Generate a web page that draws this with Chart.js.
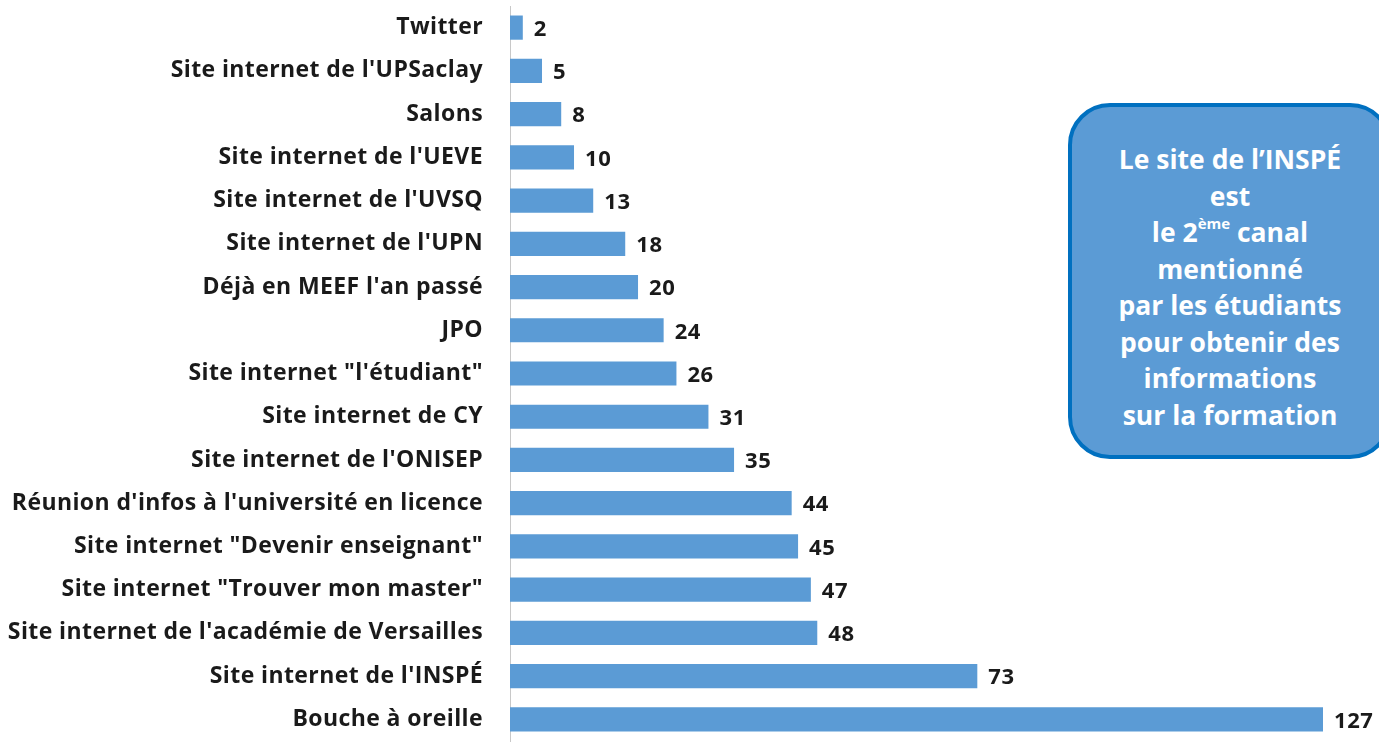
<!DOCTYPE html>
<html>
<head>
<meta charset="utf-8">
<script src="https://cdn.jsdelivr.net/npm/chart.js@4"></script>
<style>
  html, body { margin: 0; padding: 0; background: #fff; overflow: hidden; }
  #wrap { position: relative; width: 1379px; height: 742px; }
  canvas { display: block; }
  #box {
    position: absolute; left: 1068px; top: 103px; width: 324px; height: 356px;
    background: #5b9bd5; border: 4px solid #0070c0; border-radius: 42px;
    color: #fff; font-family: "Open Sans", sans-serif; font-weight: bold;
    font-size: 26.5px; line-height: 36.5px; text-align: center;
    box-sizing: border-box; padding-top: 34px;
  }
  #box sup { font-size: 15px; line-height: 0; vertical-align: 13px; }
</style>
</head>
<body>
<div id="wrap">
  <canvas id="chart" width="1379" height="742"></canvas>
  <div id="box">Le site de l’INSPÉ<br>est<br>le 2<sup>ème</sup> canal<br>mentionné<br>par les étudiants<br>pour obtenir des<br>informations<br>sur la formation</div>
</div>
<script>
// Channels by which students heard about the training
const categories = [
  "Twitter",
  "Site internet de l'UPSaclay",
  "Salons",
  "Site internet de l'UEVE",
  "Site internet de l'UVSQ",
  "Site internet de l'UPN",
  "Déjà en MEEF l'an passé",
  "JPO",
  "Site internet \"l'étudiant\"",
  "Site internet de CY",
  "Site internet de l'ONISEP",
  "Réunion d'infos à l'université en licence",
  "Site internet \"Devenir enseignant\"",
  "Site internet \"Trouver mon master\"",
  "Site internet de l'académie de Versailles",
  "Site internet de l'INSPÉ",
  "Bouche à oreille"
];
const counts = [2, 5, 8, 10, 13, 18, 20, 24, 26, 31, 35, 44, 45, 47, 48, 73, 127];

const barColor = '#5b9bd5';

// slightly wider text, closer to the original Calibri rendering
const spacing = {
  id: 'spacing',
  beforeDraw(chart) { chart.ctx.letterSpacing = '0.4px'; }
};

// Draw the value right after each bar
const valueLabels = {
  id: 'valueLabels',
  afterDatasetsDraw(chart) {
    const ctx = chart.ctx;
    const meta = chart.getDatasetMeta(0);
    ctx.save();
    ctx.font = 'bold 22px "Open Sans", sans-serif';
    ctx.letterSpacing = '0.6px';
    ctx.fillStyle = '#1a1a1a';
    ctx.textBaseline = 'middle';
    meta.data.forEach((bar, i) => {
      ctx.fillText(counts[i], bar.x + 11, bar.y + 2);
    });
    ctx.restore();
  }
};

const ctx = document.getElementById('chart').getContext('2d');
new Chart(ctx, {
  type: 'bar',
  data: {
    labels: categories,
    datasets: [{
      data: counts,
      backgroundColor: barColor,
      borderWidth: 0,
      barPercentage: 0.56,
      categoryPercentage: 1
    }]
  },
  options: {
    indexAxis: 'y',
    responsive: false,
    animation: false,
    layout: { padding: { top: 6, bottom: 1, right: 56, left: 0 } },
    plugins: { legend: { display: false }, tooltip: { enabled: false } },
    scales: {
      x: { display: false, min: 0, max: 127 },
      y: {
        grid: { display: false, drawTicks: false },
        border: { display: true, color: '#c8c8c8', width: 1 },
        afterFit(scale) {
          scale.width = 510;
          scale.paddingTop = 0;
          scale.paddingBottom = 0;
        },
        ticks: {
          padding: 27,
          color: '#1a1a1a',
          font: { family: '"Open Sans", sans-serif', weight: 'bold', size: 23 }
        }
      }
    }
  },
  plugins: [spacing, valueLabels]
});
</script>
</body>
</html>
